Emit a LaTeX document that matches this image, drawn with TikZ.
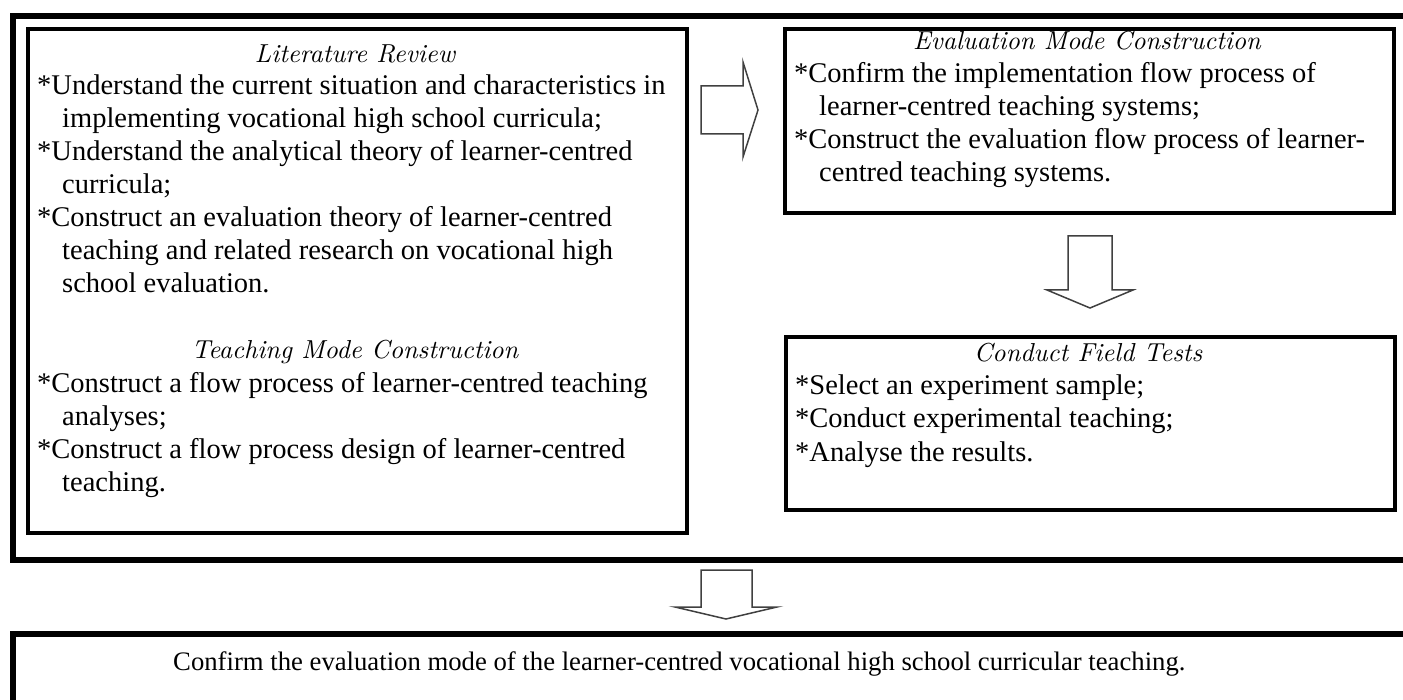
\documentclass[tikz,border=0pt]{standalone}
\usepackage{fontspec}
\setmainfont{Liberation Serif}
\newfontfamily\headfont{lmroman10-italic}[Extension=.otf]
\begin{document}
\begin{tikzpicture}[x=1pt,y=-1pt,
  box/.style={draw=black, line width=4pt, inner sep=0pt, anchor=north west},
  bigbox/.style={draw=black, line width=6pt, inner sep=0pt, anchor=north west},
  body/.style={anchor=base west, inner sep=0pt, font=\fontsize{28.5}{33}\selectfont},
  head/.style={anchor=base, inner sep=0pt, font=\headfont\fontsize{26}{30}\selectfont},
  blockarrow/.style={draw=black!75, line width=1.5pt, line join=miter, fill=white}]
\useasboundingbox (0,0) rectangle (1403,700);
\clip (0,0) rectangle (1403,700);
% frames
\node[bigbox, minimum width=1420pt, minimum height=543.5pt] (outer) at (10,13.5) {};
\node[bigbox, minimum width=1420pt, minimum height=100pt] (final) at (10,631) {};
\node[box, minimum width=659pt, minimum height=504pt] (lit) at (26,27) {};
\node[box, minimum width=609pt, minimum height=184pt] (eval) at (783,27) {};
\node[box, minimum width=609pt, minimum height=173pt] (field) at (784,335) {};
% block arrows
\draw[blockarrow] (701,86) -- (743,86) -- (743,62) -- (758,110) -- (743,157) -- (743,134) -- (701,134) -- cycle;
\draw[blockarrow] (1068,236) -- (1112,236) -- (1112,290) -- (1133,290) -- (1090,308) -- (1047,290) -- (1068,290) -- cycle;
\draw[blockarrow] (701,570) -- (752,570) -- (752,607) -- (777,607) -- (726,619) -- (675,607) -- (701,607) -- cycle;
% literature review box
\node[head] (h1) at (355,63) {Literature Review};
\node[body] (a1) at (37,95) {*Understand the current situation and characteristics in};
\node[body] (a2) at (62,128) {implementing vocational high school curricula;};
\node[body] (a3) at (37,161) {*Understand the analytical theory of learner-centred};
\node[body] (a4) at (62,194) {curricula;};
\node[body] (a5) at (37,227) {*Construct an evaluation theory of learner-centred};
\node[body] (a6) at (62,260) {teaching and related research on vocational high};
\node[body] (a7) at (62,293) {school evaluation.};
\node[head] (h2) at (355,359) {Teaching Mode Construction};
\node[body] (b1) at (37,392) {*Construct a flow process of learner-centred teaching};
\node[body] (b2) at (62,425) {analyses;};
\node[body] (b3) at (37,458) {*Construct a flow process design of learner-centred};
\node[body] (b4) at (62,491) {teaching.};
% evaluation box
\node[head] (h3) at (1087,50) {Evaluation Mode Construction};
\node[body] (c1) at (794,83) {*Confirm the implementation flow process of};
\node[body] (c2) at (819,116) {learner-centred teaching systems;};
\node[body] (c3) at (794,149) {*Construct the evaluation flow process of learner-};
\node[body] (c4) at (819,182) {centred teaching systems.};
% field tests box
\node[head] (h4) at (1088,362) {Conduct Field Tests};
\node[body] (d1) at (795,395) {*Select an experiment sample;};
\node[body] (d2) at (795,428) {*Conduct experimental teaching;};
\node[body] (d3) at (795,461) {*Analyse the results.};
% final box
\node[body, font=\fontsize{26.7}{33}\selectfont] (e1) at (173,670) {Confirm the evaluation mode of the learner-centred vocational high school curricular teaching.};
\end{tikzpicture}
\end{document}
